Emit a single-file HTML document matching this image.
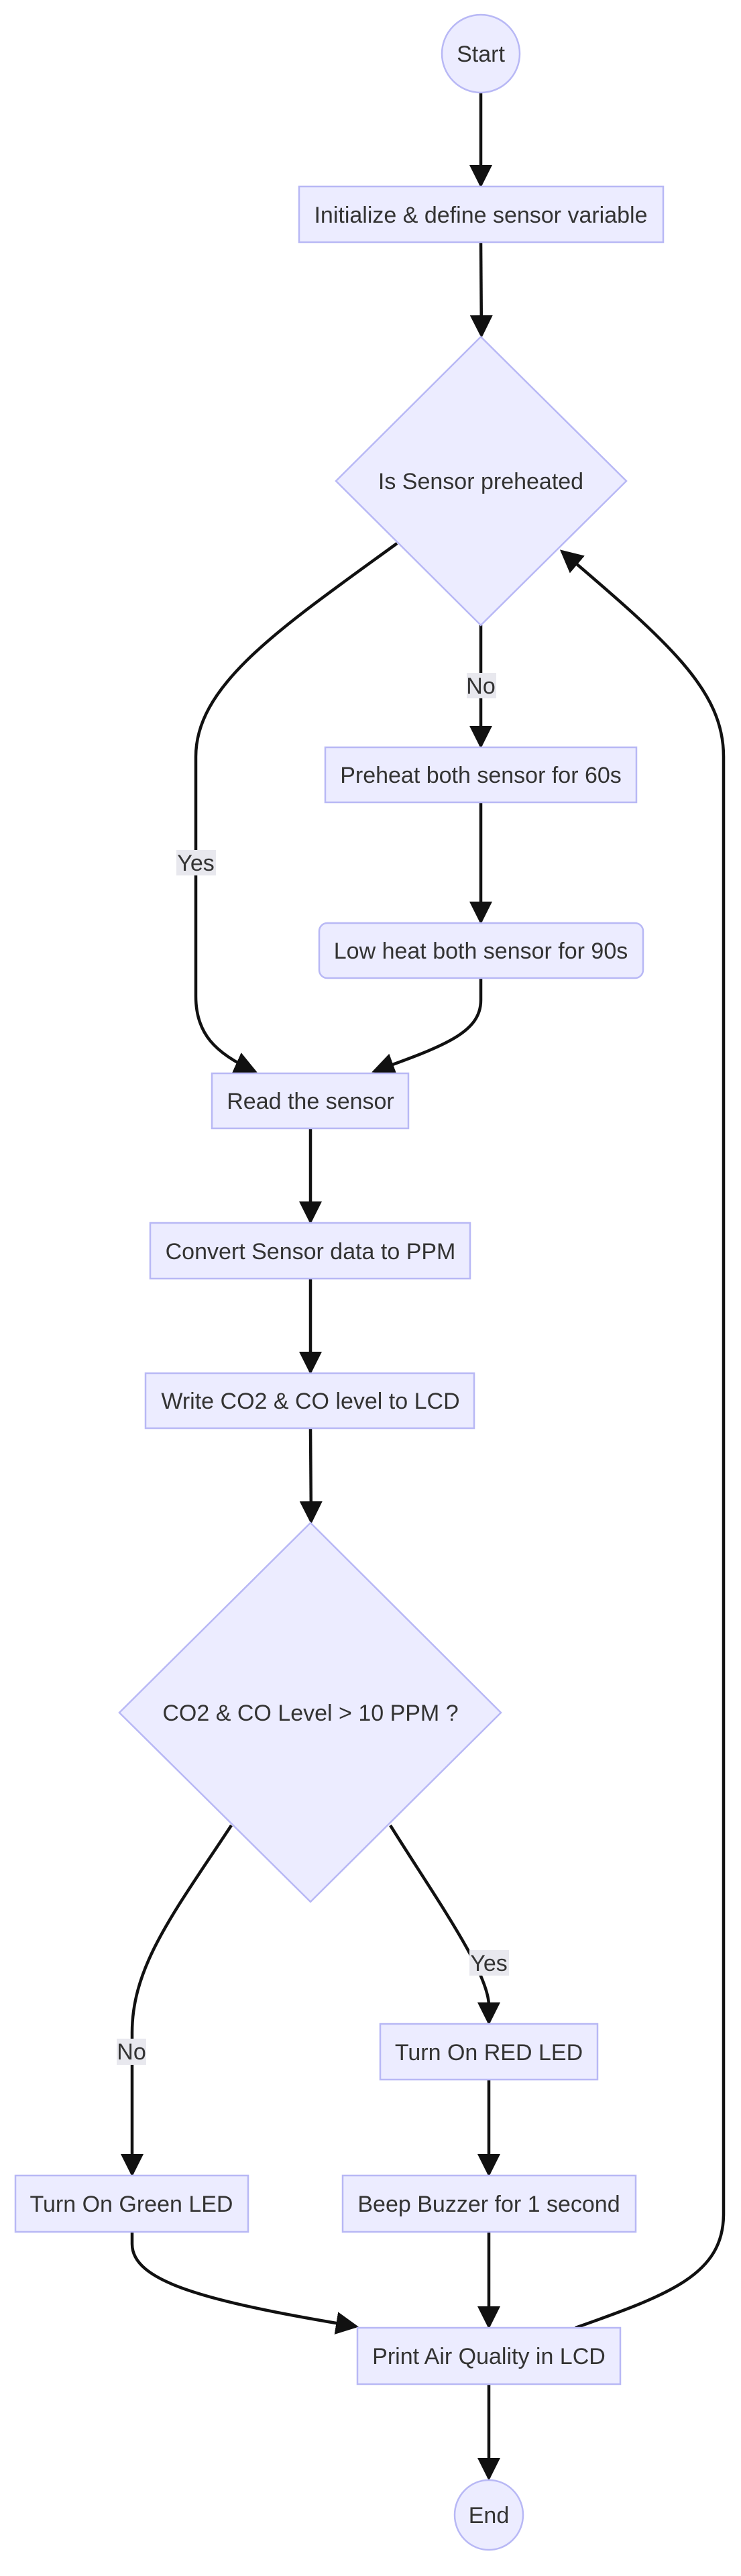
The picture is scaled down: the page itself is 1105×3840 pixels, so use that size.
<!DOCTYPE html>
<html><head><meta charset="utf-8"><style>
html,body{margin:0;padding:0;background:#fff;}
svg{display:block;}
text{font-family:"Liberation Sans",Arial,sans-serif;font-size:34px;fill:#333;}
.n{fill:#ECECFF;stroke:#b8b8f5;stroke-width:2.5;}
.e{fill:none;stroke:#111;stroke-width:4.5;}
.lb{fill:#e8e8ee;}
</style></head><body>
<svg width="1105" height="3840" viewBox="0 0 1105 3840" xmlns="http://www.w3.org/2000/svg">
<defs>
<marker id="a" markerUnits="userSpaceOnUse" markerWidth="40" markerHeight="40" refX="30" refY="17" orient="auto">
<path d="M0,0 L34,17 L0,34 z" fill="#111"/>
</marker>
</defs>

<path class="e" d="M717,137 L717,276" marker-end="url(#a)"/>
<path class="e" d="M717,361 L718,500" marker-end="url(#a)"/>
<path class="e" d="M717,932 L717,1112" marker-end="url(#a)"/>
<path class="e" d="M592,810 C420,935 292,1020 292,1128 L292,1485 C292,1540 320,1570 380,1597" marker-end="url(#a)"/>
<path class="e" d="M717,1196 L717,1374" marker-end="url(#a)"/>
<path class="e" d="M717,1458 L717,1491 C717,1540 660,1560 558,1597" marker-end="url(#a)"/>
<path class="e" d="M463,1682 L463,1821" marker-end="url(#a)"/>
<path class="e" d="M463,1906 L463,2045" marker-end="url(#a)"/>
<path class="e" d="M463,2129 L464,2268" marker-end="url(#a)"/>
<path class="e" d="M345,2721 C260,2850 197,2930 197,3030 L197,3241" marker-end="url(#a)"/>
<path class="e" d="M582,2721 C650,2830 729,2940 729,2990 L729,3015" marker-end="url(#a)"/>
<path class="e" d="M729,3100 L729,3241" marker-end="url(#a)"/>
<path class="e" d="M197,3327 L197,3345 C197,3400 300,3430 531,3468" marker-end="url(#a)"/>
<path class="e" d="M729,3327 L729,3468" marker-end="url(#a)"/>
<path class="e" d="M858,3470 C1000,3420 1079,3390 1079,3300 L1079,1128 C1079,1030 1000,960 838,822" marker-end="url(#a)"/>
<path class="e" d="M729,3554 L729,3694" marker-end="url(#a)"/>

<rect class="lb" x="696" y="1003" width="44" height="38"/>
<text x="717" y="1034" text-anchor="middle">No</text>
<rect class="lb" x="263" y="1267" width="59" height="38"/>
<text x="292" y="1298" text-anchor="middle">Yes</text>
<rect class="lb" x="700" y="2907" width="59" height="38"/>
<text x="729" y="2938" text-anchor="middle">Yes</text>
<rect class="lb" x="174" y="3039" width="44" height="39"/>
<text x="196" y="3070" text-anchor="middle">No</text>

<ellipse class="n" cx="717" cy="80" rx="58" ry="58"/>
<text x="717" y="92" text-anchor="middle">Start</text>

<rect class="n" x="446" y="278" width="543" height="83"/>
<text x="717" y="332" text-anchor="middle">Initialize &amp; define sensor variable</text>

<polygon class="n" points="717,502 934,717 717,932 501,717"/>
<text x="717" y="729" text-anchor="middle">Is Sensor preheated</text>

<rect class="n" x="485" y="1114" width="464" height="82"/>
<text x="717" y="1167" text-anchor="middle">Preheat both sensor for 60s</text>

<rect class="n" x="476" y="1376" width="483" height="82" rx="12" ry="12"/>
<text x="717" y="1429" text-anchor="middle">Low heat both sensor for 90s</text>

<rect class="n" x="316" y="1600" width="293" height="82"/>
<text x="463" y="1653" text-anchor="middle">Read the sensor</text>

<rect class="n" x="224" y="1823" width="477" height="83"/>
<text x="463" y="1877" text-anchor="middle">Convert Sensor data to PPM</text>

<rect class="n" x="217" y="2047" width="490" height="82"/>
<text x="463" y="2100" text-anchor="middle">Write CO2 &amp; CO level to LCD</text>

<polygon class="n" points="463,2270 747,2553 463,2835 178,2553"/>
<text x="463" y="2565" text-anchor="middle">CO2 &amp; CO Level &gt; 10 PPM ?</text>

<rect class="n" x="567" y="3017" width="324" height="83"/>
<text x="729" y="3071" text-anchor="middle">Turn On RED LED</text>

<rect class="n" x="23" y="3243" width="347" height="84"/>
<text x="196" y="3297" text-anchor="middle">Turn On Green LED</text>

<rect class="n" x="511" y="3243" width="437" height="84"/>
<text x="729" y="3297" text-anchor="middle">Beep Buzzer for 1 second</text>

<rect class="n" x="533" y="3470" width="392" height="84"/>
<text x="729" y="3524" text-anchor="middle">Print Air Quality in LCD</text>

<ellipse class="n" cx="729" cy="3749" rx="51" ry="52"/>
<text x="729" y="3761" text-anchor="middle">End</text>
</svg>
</body></html>
